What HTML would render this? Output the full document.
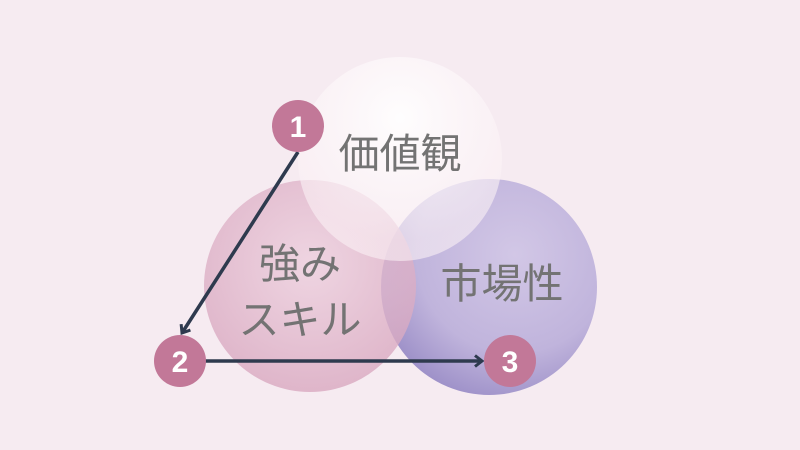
<!DOCTYPE html>
<html><head><meta charset="utf-8"><style>
html,body{margin:0;padding:0;background:#f6ebf1;width:800px;height:450px;overflow:hidden}
svg{display:block}
text{font-family:"Liberation Sans","Noto Sans CJK JP",sans-serif}
</style></head><body>
<svg width="800" height="450" viewBox="0 0 800 450">
<defs>
<radialGradient id="gp" cx="50%" cy="40%" r="60%">
<stop offset="0" stop-color="#eccddc" stop-opacity="0.75"/>
<stop offset="1" stop-color="#d9a8c0" stop-opacity="0.8"/>
</radialGradient>
<radialGradient id="gv" cx="62%" cy="35%" r="70%">
<stop offset="0" stop-color="#d2c7e6"/>
<stop offset="0.65" stop-color="#c0b4dc"/>
<stop offset="1" stop-color="#9d90c8"/>
</radialGradient>
<radialGradient id="gw" cx="50%" cy="30%" r="60%">
<stop offset="0" stop-color="#ffffff" stop-opacity="0.92"/>
<stop offset="1" stop-color="#fbf1f5" stop-opacity="0.6"/>
</radialGradient>
<marker id="ah" markerWidth="14" markerHeight="14" refX="9" refY="7" orient="auto" markerUnits="userSpaceOnUse">
<path d="M2,1.5 L9,7 L2,12.5" fill="none" stroke="#2e3a4e" stroke-width="3"/>
</marker>
</defs>
<circle cx="489" cy="287" r="108" fill="url(#gv)"/>
<circle cx="310" cy="286" r="106" fill="url(#gp)"/>
<circle cx="400" cy="159" r="102" fill="url(#gw)"/>
<text x="400" y="168" font-size="41" fill="#737373" text-anchor="middle">価値観</text>
<text x="300" y="278" font-size="41" fill="#737373" text-anchor="middle">強み</text>
<text x="300" y="334" font-size="41" fill="#737373" text-anchor="middle">スキル</text>
<text x="502" y="298" font-size="41" fill="#737373" text-anchor="middle">市場性</text>
<line x1="298" y1="152" x2="182" y2="333" stroke="#2e3a4e" stroke-width="3.5" marker-end="url(#ah)"/>
<line x1="205" y1="361" x2="482" y2="361" stroke="#2e3a4e" stroke-width="3.5" marker-end="url(#ah)"/>
<circle cx="298" cy="126" r="26" fill="#c27898"/>
<circle cx="180" cy="361" r="26" fill="#c27898"/>
<circle cx="510" cy="361" r="26" fill="#c27898"/>
<text x="298" y="137" font-size="30" font-weight="bold" fill="#fff" text-anchor="middle">1</text>
<text x="180" y="372" font-size="30" font-weight="bold" fill="#fff" text-anchor="middle">2</text>
<text x="510" y="372" font-size="30" font-weight="bold" fill="#fff" text-anchor="middle">3</text>
</svg>
</body></html>
